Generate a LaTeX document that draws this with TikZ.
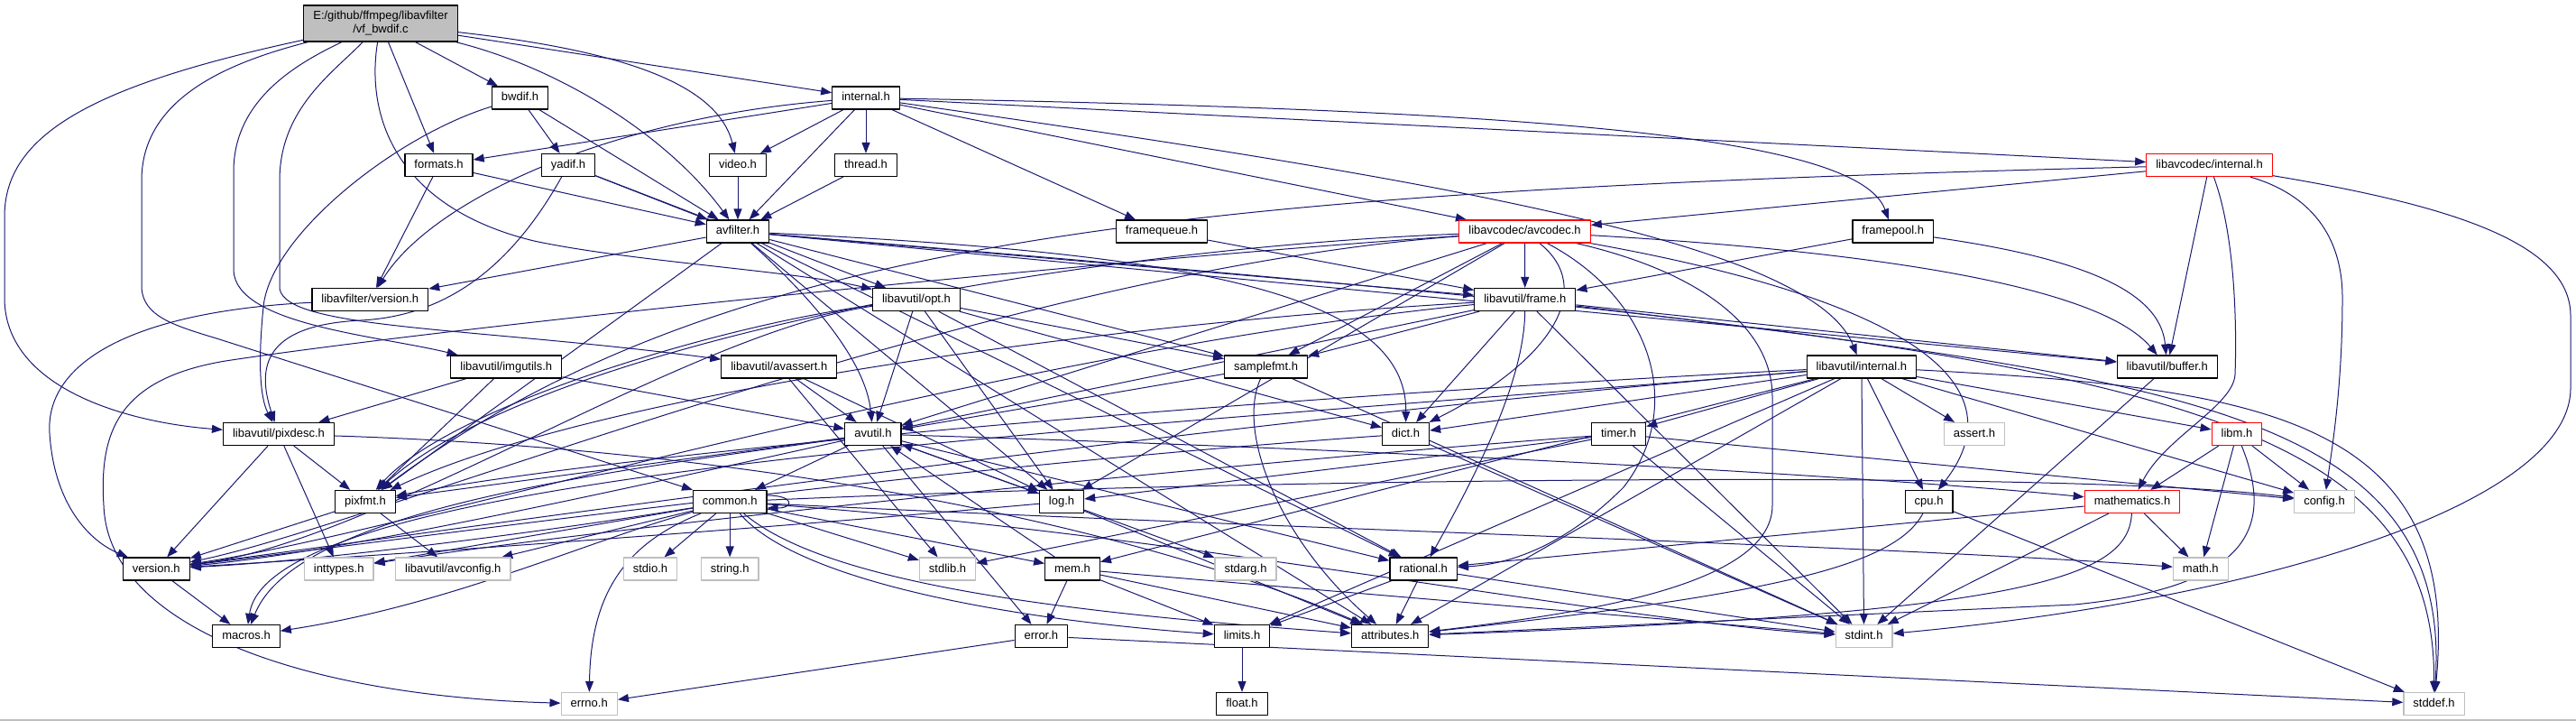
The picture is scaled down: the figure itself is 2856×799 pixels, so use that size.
\documentclass[tikz,border=0pt]{standalone}
\usepackage{fontspec}
\setmainfont{Liberation Sans}
\usepackage{xcolor}
\usepackage{tikz}
\usetikzlibrary{arrows.meta,backgrounds}
\definecolor{DGEdge}{HTML}{191970}
\definecolor{DGGray}{HTML}{BFBFBF}
\definecolor{DGRed}{HTML}{FF0000}
\definecolor{DGRoot}{HTML}{BFBFBF}
\tikzset{
  hdr/.style={draw=black,line width=1.2pt,fill=white,inner xsep=10.5pt,
    inner ysep=0pt,minimum height=25pt,text height=9.5pt,text depth=2.5pt,
    font=\fontsize{13}{15}\selectfont},
  syshdr/.style={hdr,draw=DGGray},
  redhdr/.style={hdr,draw=DGRed},
  roothdr/.style={hdr,fill=DGRoot,align=center,minimum height=40pt,
    text height=,text depth=,inner ysep=3pt},
  dep/.style={draw=DGEdge,line width=1pt,
    -{Triangle[length=12pt,width=9pt]}}
}

\begin{document}
\begin{tikzpicture}[x=1pt,y=-1pt,line cap=round,line join=round]
  \path[use as bounding box] (0,0) rectangle (2856,799);

  % Header files, one row per include depth.
  \node[roothdr] (top) at (422,26) {E:/github/ffmpeg/libavfilter\\/vf\_bwdif.c};

  \node[hdr] (bwdif) at (576.5,108.5) {bwdif.h};
  \node[hdr] (intern) at (960,108.5) {internal.h};

  \node[hdr] (formats) at (486.5,183) {formats.h};
  \node[hdr] (yadif) at (630,183) {yadif.h};
  \node[hdr] (video) at (818,183) {video.h};
  \node[hdr] (thread) at (960,183) {thread.h};
  \node[redhdr] (lcint) at (2449.5,183) {libavcodec/internal.h};

  \node[hdr] (avfilter) at (818,256.5) {avfilter.h};
  \node[hdr] (fqueue) at (1288,256.5) {framequeue.h};
  \node[redhdr] (avcodec) at (1690.5,256.5) {libavcodec/avcodec.h};
  \node[hdr] (fpool) at (2098.7,256.5) {framepool.h};

  \node[hdr] (lfversion) at (410.3,332) {libavfilter/version.h};
  \node[hdr] (opt) at (1016,332) {libavutil/opt.h};
  \node[hdr] (frame) at (1690.8,332) {libavutil/frame.h};

  \node[hdr] (imgutils) at (561.3,406.5) {libavutil/imgutils.h};
  \node[hdr] (avassert) at (863.8,406.5) {libavutil/avassert.h};
  \node[hdr] (samplefmt) at (1403.6,406.5) {samplefmt.h};
  \node[hdr] (luint) at (2063.9,406.5) {libavutil/internal.h};
  \node[hdr] (buffer) at (2402.7,406.5) {libavutil/buffer.h};

  \node[hdr] (pixdesc) at (309,481) {libavutil/pixdesc.h};
  \node[hdr] (avutil) at (967.9,481) {avutil.h};
  \node[hdr] (dict) at (1558.5,481) {dict.h};
  \node[hdr] (timer) at (1794.6,481) {timer.h};
  \node[syshdr] (assrt) at (2189,481) {assert.h};
  \node[redhdr] (libm) at (2480,481) {libm.h};

  \node[hdr] (pixfmt) at (405,556) {pixfmt.h};
  \node[hdr] (common) at (809.2,556) {common.h};
  \node[hdr] (log) at (1177,556) {log.h};
  \node[hdr] (cpu) at (2138.6,556) {cpu.h};
  \node[redhdr] (mathem) at (2364,556) {mathematics.h};
  \node[syshdr] (config) at (2577,556) {config.h};

  \node[hdr] (version) at (173.3,630.5) {version.h};
  \node[syshdr] (inttypes) at (375.7,630.5) {inttypes.h};
  \node[syshdr] (avconfig) at (502.3,630.5) {libavutil/avconfig.h};
  \node[syshdr] (stdio) at (721,630.5) {stdio.h};
  \node[syshdr] (string) at (809.2,630.5) {string.h};
  \node[syshdr] (stdlib) at (1050.5,630.5) {stdlib.h};
  \node[hdr] (mem) at (1189,630.5) {mem.h};
  \node[syshdr] (stdarg) at (1381,630.5) {stdarg.h};
  \node[hdr] (rational) at (1578.2,630.5) {rational.h};
  \node[syshdr] (math) at (2439.8,630.5) {math.h};

  \node[hdr] (macros) at (273,705) {macros.h};
  \node[hdr] (error) at (1154.4,705) {error.h};
  \node[hdr] (limits) at (1377,705) {limits.h};
  \node[hdr] (attributes) at (1541.2,705) {attributes.h};
  \node[syshdr] (stdint) at (2066.6,705) {stdint.h};

  \node[syshdr] (errno) at (653.2,780) {errno.h};
  \node[hdr] (float) at (1377,780) {float.h};
  \node[syshdr] (stddef) at (2698.5,780) {stddef.h};

  \draw[DGGray,line width=1.5pt] (0,798) -- (2856,798);

  \begin{scope}[on background layer]
    % vf_bwdif.c
    \draw[dep] (top) .. controls (100,95) and (5,150) .. (5,240) -- (5,330)
      .. controls (5,430) and (140,468) .. (pixdesc);
    \draw[dep] (top) .. controls (250,70) and (157,110) .. (157,200) -- (157,320)
      .. controls (160,350) and (190,360) .. (240,375) -- (common);
    \draw[dep] (top) .. controls (330,70) and (259,110) .. (259,190) -- (259,300)
      .. controls (262,360) and (420,372) .. (imgutils);
    \draw[dep] (top) .. controls (370,80) and (310,120) .. (310,200) -- (310,320)
      .. controls (318,365) and (520,362) .. (avassert);
    \draw[dep] (top) .. controls (405,130) and (440,230) .. (592,267)
      .. controls (700,290) and (880,300) .. (opt);
    \draw[dep] (top) -- (formats);
    \draw[dep] (top) -- (bwdif);
    \draw[dep] (top) .. controls (620,75) and (740,150) .. (avfilter);
    \draw[dep] (top) -- (intern);
    \draw[dep] (top) .. controls (680,55) and (795,90) .. (video);

    % bwdif.h, yadif.h, formats.h
    \draw[dep] (bwdif) -- (yadif);
    \draw[dep] (bwdif) -- (avfilter);
    \draw[dep] (bwdif) .. controls (440,150) and (300,260) .. (292,340)
      .. controls (286,400) and (288,440) .. (pixdesc);
    \draw[dep] (yadif) .. controls (570,290) and (500,350) .. (400,355)
      .. controls (300,360) and (282,400) .. (pixdesc);
    \draw[dep] (yadif) -- (avfilter);
    \draw[dep] (yadif) -- (opt);
    \draw[dep] (formats) -- (avfilter);
    \draw[dep] (formats) -- (lfversion);

    % libavfilter/internal.h
    \draw[dep] (intern) -- (video);
    \draw[dep] (intern) -- (avfilter);
    \draw[dep] (intern) -- (thread);
    \draw[dep] (intern) -- (fqueue);
    \draw[dep] (intern) -- (formats);
    \draw[dep] (intern) .. controls (680,130) and (480,220) .. (lfversion);
    \draw[dep] (intern) -- (avcodec);
    \draw[dep] (intern) -- (lcint);
    \draw[dep] (intern) .. controls (1700,122) and (2060,150) .. (fpool);
    \draw[dep] (intern) .. controls (1600,200) and (2010,270) .. (luint);
    \draw[dep] (video) -- (avfilter);
    \draw[dep] (thread) -- (avfilter);

    % libavcodec/internal.h
    \draw[dep] (lcint) -- (avcodec);
    \draw[dep] (lcint) .. controls (1300,212) and (800,262) .. (pixfmt);
    \draw[dep] (lcint) -- (buffer);
    \draw[dep] (lcint) .. controls (2478,260) and (2480,360) .. (2478,415)
      .. controls (2476,450) and (2400,485) .. (mathem);
    \draw[dep] (lcint) .. controls (2560,215) and (2597,260) .. (2597,330)
      .. controls (2597,430) and (2585,500) .. (config);
    \draw[dep] (lcint) .. controls (2720,228) and (2850,270) .. (2850,350) -- (2850,430)
      .. controls (2850,560) and (2500,665) .. (stdint);

    % framequeue.h, framepool.h
    \draw[dep] (fqueue) -- (frame);
    \draw[dep] (fpool) -- (frame);
    \draw[dep] (fpool) .. controls (2300,285) and (2395,320) .. (buffer);

    % avfilter.h
    \draw[dep] (avfilter) -- (lfversion);
    \draw[dep] (avfilter) .. controls (900,330) and (960,400) .. (avutil);
    \draw[dep] (avfilter) -- (frame);
    \draw[dep] (avfilter) -- (samplefmt);
    \draw[dep] (avfilter) .. controls (1300,280) and (1560,320) .. (dict);
    \draw[dep] (avfilter) -- (buffer);
    \draw[dep] (avfilter) -- (log);
    \draw[dep] (avfilter) -- (pixfmt);
    \draw[dep] (avfilter) -- (rational);
    \draw[dep] (avfilter) -- (attributes);
    \draw[dep] (avfilter) .. controls (2300,380) and (2700,420) .. (stddef);

    % libavcodec/avcodec.h
    \draw[dep] (avcodec) -- (frame);
    \draw[dep] (avcodec) -- (samplefmt);
    \draw[dep] (avcodec) .. controls (1770,320) and (1720,400) .. (dict);
    \draw[dep] (avcodec) .. controls (1880,300) and (1965,360) .. (1965,440) -- (1965,560)
      .. controls (1965,650) and (1750,680) .. (attributes);
    \draw[dep] (avcodec) .. controls (1830,330) and (1870,450) .. (1800,540)
      .. controls (1740,600) and (1680,625) .. (rational);
    \draw[dep] (avcodec) .. controls (2100,330) and (2245,420) .. (cpu);
    \draw[dep] (avcodec) .. controls (2100,280) and (2330,320) .. (buffer);
    \draw[dep] (avcodec) -- (avutil);
    \draw[dep] (avcodec) -- (log);
    \draw[dep] (avcodec) .. controls (1200,275) and (600,380) .. (pixfmt);
    \draw[dep] (avcodec) .. controls (1200,290) and (500,362) .. (250,400)
      .. controls (130,420) and (110,480) .. (115,560)
      .. controls (120,700) and (350,772) .. (errno);
    \draw[dep] (avcodec) .. controls (1100,300) and (420,580) .. (version);

    % libavfilter/version.h
    \draw[dep] (lfversion) .. controls (150,345) and (50,400) .. (55,480)
      .. controls (60,560) and (100,600) .. (version);

    % libavutil/opt.h
    \draw[dep] (opt) -- (avutil);
    \draw[dep] (opt) -- (log);
    \draw[dep] (opt) -- (samplefmt);
    \draw[dep] (opt) -- (rational);
    \draw[dep] (opt) -- (dict);
    \draw[dep] (opt) .. controls (800,360) and (500,450) .. (pixfmt);
    \draw[dep] (opt) .. controls (760,370) and (420,600) .. (version);

    % libavutil/frame.h
    \draw[dep] (frame) -- (avutil);
    \draw[dep] (frame) -- (buffer);
    \draw[dep] (frame) -- (dict);
    \draw[dep] (frame) .. controls (1690,420) and (1640,520) .. (rational);
    \draw[dep] (frame) -- (samplefmt);
    \draw[dep] (frame) .. controls (1200,360) and (650,440) .. (pixfmt);
    \draw[dep] (frame) .. controls (1100,390) and (450,590) .. (version);
    \draw[dep] (frame) -- (stdint);
    \draw[dep] (frame) .. controls (2400,420) and (2720,450) .. (stddef);

    % imgutils.h, avassert.h, samplefmt.h, buffer.h
    \draw[dep] (imgutils) -- (avutil);
    \draw[dep] (imgutils) -- (pixdesc);
    \draw[dep] (imgutils) -- (pixfmt);
    \draw[dep] (avassert) -- (avutil);
    \draw[dep] (avassert) -- (stdlib);
    \draw[dep] (avassert) -- (log);
    \draw[dep] (samplefmt) -- (avutil);
    \draw[dep] (samplefmt) .. controls (1370,480) and (1420,600) .. (attributes);
    \draw[dep] (samplefmt) -- (stdint);
    \draw[dep] (buffer) -- (stdint);

    % libavutil/internal.h
    \draw[dep] (luint) -- (dict);
    \draw[dep] (luint) -- (timer);
    \draw[dep] (luint) -- (assrt);
    \draw[dep] (luint) -- (cpu);
    \draw[dep] (luint) -- (stdint);
    \draw[dep] (luint) -- (limits);
    \draw[dep] (luint) -- (attributes);
    \draw[dep] (luint) -- (mem);
    \draw[dep] (luint) .. controls (1200,480) and (300,520) .. (macros);
    \draw[dep] (luint) .. controls (1400,440) and (700,500) .. (pixfmt);
    \draw[dep] (luint) .. controls (1300,470) and (450,595) .. (version);
    \draw[dep] (luint) -- (libm);
    \draw[dep] (luint) -- (config);
    \draw[dep] (luint) .. controls (2500,430) and (2730,460) .. (stddef);

    % pixdesc.h, avutil.h
    \draw[dep] (pixdesc) -- (pixfmt);
    \draw[dep] (pixdesc) -- (version);
    \draw[dep] (pixdesc) -- (inttypes);
    \draw[dep] (pixdesc) .. controls (900,500) and (1300,600) .. (attributes);
    \draw[dep] (avutil) -- (common);
    \draw[dep] (avutil) -- (error);
    \draw[dep] (avutil) -- (rational);
    \draw[dep] (avutil) .. controls (700,540) and (380,612) .. (version);
    \draw[dep] (avutil) .. controls (700,520) and (330,560) .. (macros);
    \draw[dep] (avutil) .. controls (1600,500) and (2100,530) .. (mathem);
    \draw[dep] (avutil) -- (log);
    \draw[dep] (avutil) -- (pixfmt);

    % dict.h, timer.h, libm.h
    \draw[dep] (dict) -- (stdint);
    \draw[dep] (dict) .. controls (1000,520) and (420,602) .. (version);
    \draw[dep] (timer) -- (log);
    \draw[dep] (timer) -- (config);
    \draw[dep] (timer) -- (stdint);
    \draw[dep] (timer) -- (stdlib);
    \draw[dep] (timer) .. controls (1400,510) and (700,580) .. (inttypes);
    \draw[dep] (libm) -- (mathem);
    \draw[dep] (libm) -- (math);
    \draw[dep] (libm) -- (config);
    \draw[dep] (libm) .. controls (2520,580) and (2500,650) .. (2300,670) -- (attributes);

    % pixfmt.h, common.h, log.h
    \draw[dep] (pixfmt) -- (avconfig);
    \draw[dep] (pixfmt) -- (version);
    \draw[dep] (common) -- (stdio);
    \draw[dep] (common) -- (string);
    \draw[dep] (common) -- (stdlib);
    \draw[dep] (common) -- (mem);
    \draw[dep] (common) .. controls (880,640) and (1100,685) .. (limits);
    \draw[dep] (common) .. controls (920,650) and (1200,680) .. (attributes);
    \draw[dep] (common) .. controls (1300,590) and (1800,690) .. (stdint);
    \draw[dep] (common) .. controls (1400,585) and (2100,605) .. (math);
    \draw[dep] (common) .. controls (1400,530) and (2300,520) .. (config);
    \draw[dep] (common) .. controls (700,600) and (655,650) .. (errno);
    \draw[dep] (common) -- (inttypes);
    \draw[dep] (common) -- (avconfig);
    \draw[dep] (common) .. controls (600,590) and (350,622) .. (version);
    \draw[dep] (common) .. controls (650,600) and (500,670) .. (macros);
    \draw[dep] ([yshift=7pt]common.east) .. controls +(30,0) and +(30,0)
      .. ([yshift=-7pt]common.east);
    \draw[dep] (log) -- (stdarg);
    \draw[dep] (log) -- (avutil);
    \draw[dep] (log) -- (attributes);
    \draw[dep] (log) .. controls (800,590) and (400,617) .. (version);

    % cpu.h, mathematics.h
    \draw[dep] (cpu) .. controls (2100,630) and (1950,660) .. (attributes);
    \draw[dep] (cpu) -- (stddef);
    \draw[dep] (mathem) -- (stdint);
    \draw[dep] (mathem) -- (math);
    \draw[dep] (mathem) .. controls (2360,640) and (2250,680) .. (attributes);
    \draw[dep] (mathem) -- (rational);

    % lower rows
    \draw[dep] (version) -- (macros);
    \draw[dep] (mem) -- (error);
    \draw[dep] (mem) -- (limits);
    \draw[dep] (mem) -- (attributes);
    \draw[dep] (mem) -- (stdint);
    \draw[dep] (mem) -- (avutil);
    \draw[dep] (rational) -- (limits);
    \draw[dep] (rational) -- (attributes);
    \draw[dep] (rational) -- (stdint);
    \draw[dep] (error) -- (errno);
    \draw[dep] (error) -- (stddef);
    \draw[dep] (limits) -- (float);
  \end{scope}
\end{tikzpicture}
\end{document}
